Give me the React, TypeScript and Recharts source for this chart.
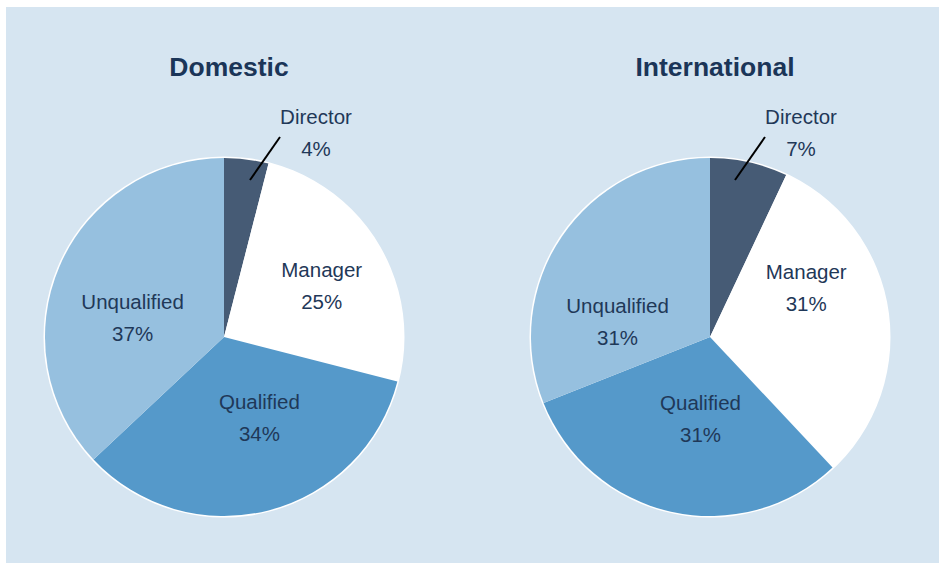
import React from 'react';
import { PieChart, Pie, Cell } from 'recharts';

const categories = ['Director', 'Manager', 'Qualified', 'Unqualified'];
const domesticValues = [4, 25, 34, 37];
const internationalValues = [7, 31, 31, 31];
const chartTitles = ['Domestic', 'International'];

const colors = ['#465b75', '#ffffff', '#5599ca', '#96c0df'];
const textColor = '#1f3858';
const font = '"Liberation Sans", Arial, Helvetica, sans-serif';
const labelSize = 20.5;
const RADIUS = 179;
const RADIAN = Math.PI / 180;

// manual label nudges (Excel "best fit" placement), per chart / per slice
const labelNudges = [
  [[0, 0], [13, 1], [11, -13], [-1, 22]],
  [[0, 0], [-1, -32], [12, -13], [-11, 42]],
];

function makeLabel(chartIndex: number) {
  return (props: any) => {
    const { cx, cy, midAngle, index, name, value } = props;
    if (index === 0) {
      // Director label sits outside with a leader line
      const ox = chartIndex === 0 ? -1 : -2;
      return (
        <g>
          <line x1={cx + ox + 27} y1={cy - 157} x2={cx + ox + 57} y2={cy - 200} stroke="#000" strokeWidth={2} />
          <text x={cx + ox + 93} y={cy - 218} textAnchor="middle" dominantBaseline="middle" fill={textColor} fontSize={labelSize} fontFamily={font}>
            {name}
          </text>
          <text x={cx + ox + 93} y={cy - 186} textAnchor="middle" dominantBaseline="middle" fill={textColor} fontSize={labelSize} fontFamily={font}>
            {value}%
          </text>
        </g>
      );
    }
    const r = RADIUS * 0.55;
    const [dx, dy] = labelNudges[chartIndex][index];
    const x = cx + r * Math.cos(-midAngle * RADIAN) + dx;
    const y = cy + r * Math.sin(-midAngle * RADIAN) + dy;
    return (
      <g>
        <text x={x} y={y - 16} textAnchor="middle" dominantBaseline="middle" fill={textColor} fontSize={labelSize} fontFamily={font}>
          {name}
        </text>
        <text x={x} y={y + 16} textAnchor="middle" dominantBaseline="middle" fill={textColor} fontSize={labelSize} fontFamily={font}>
          {value}%
        </text>
      </g>
    );
  };
}

const domesticData = categories.map((name, i) => ({ name, value: domesticValues[i] }));
const internationalData = categories.map((name, i) => ({ name, value: internationalValues[i] }));
const ringData = [{ name: 'ring', value: 1 }];

export default function App() {
  const centers = [218, 704];
  const datasets = [domesticData, internationalData];
  return (
    <div
      style={{
        position: 'absolute',
        left: 6,
        top: 7,
        width: 933,
        height: 556,
        background: '#d6e5f1',
        fontFamily: font,
      }}
    >
      {chartTitles.map((t, i) => (
        <div
          key={t}
          style={{
            position: 'absolute',
            left: [223, 709][i] - 150,
            top: 45,
            width: 300,
            height: 30,
            lineHeight: '30px',
            textAlign: 'center',
            fontSize: 26.5,
            fontWeight: 'bold',
            color: '#1b3558',
          }}
        >
          {t}
        </div>
      ))}
      <div style={{ position: 'absolute', left: 0, top: 0 }}>
        <PieChart width={933} height={556} margin={{ top: 0, right: 0, bottom: 0, left: 0 }}>
          {centers.map((c, k) => (
            <Pie
              key={'ring' + k}
              data={ringData}
              dataKey="value"
              cx={c}
              cy={330}
              outerRadius={RADIUS + 1.5}
              fill="#ffffff"
              stroke="none"
              isAnimationActive={false}
            />
          ))}
          {datasets.map((data, k) => (
            <Pie
              key={chartTitles[k]}
              data={data}
              dataKey="value"
              nameKey="name"
              cx={centers[k]}
              cy={330}
              outerRadius={RADIUS}
              startAngle={90}
              endAngle={-270}
              stroke="none"
              labelLine={false}
              label={makeLabel(k)}
              isAnimationActive={false}
            >
              {data.map((d, i) => (
                <Cell key={d.name} fill={colors[i]} />
              ))}
            </Pie>
          ))}
        </PieChart>
      </div>
    </div>
  );
}
